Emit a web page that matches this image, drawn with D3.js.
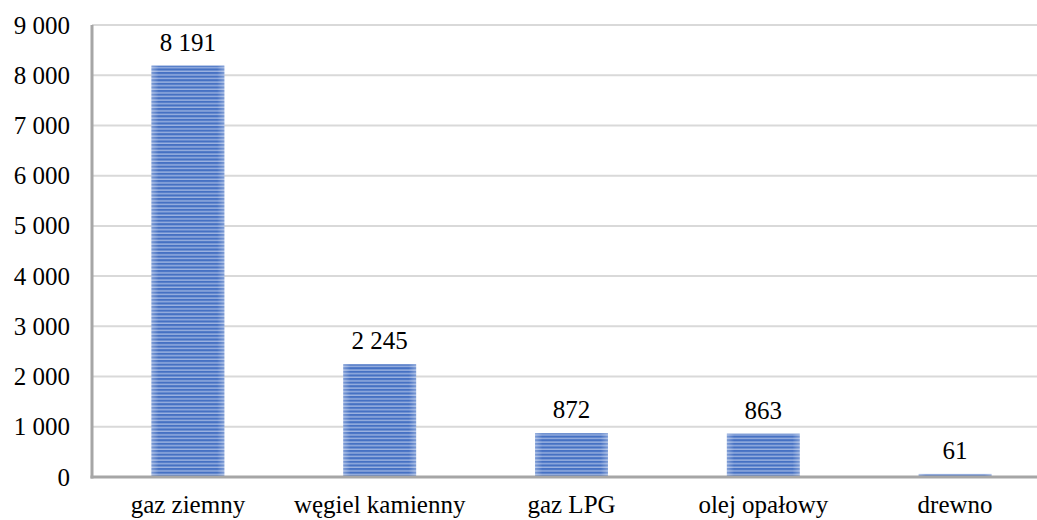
<!DOCTYPE html>
<html><head><meta charset="utf-8">
<script src="https://cdn.jsdelivr.net/npm/d3@7"></script>
<style>body{margin:0;background:#fff}svg{display:block}svg text{font-family:'Liberation Serif','Times New Roman',serif !important;}</style>
</head><body>
<script>
const categories = ["gaz ziemny", "węgiel kamienny", "gaz LPG", "olej opałowy", "drewno"];
const values = [8191, 2245, 872, 863, 61];
const yTicks = [0, 1000, 2000, 3000, 4000, 5000, 6000, 7000, 8000, 9000];

const W = 1037, H = 520;
const svg = d3.select("body").append("svg").attr("width", W).attr("height", H);
const loc = d3.formatLocale({decimal: ",", thousands: "\u00a0", grouping: [3], currency: ["", ""]});
const fmt = loc.format(",d");

const x = d3.scaleBand().domain(categories).range([92, 1051]).paddingInner(0.62).paddingOuter(0.31);
const y = d3.scaleLinear().domain([0, 9000]).range([477, 25]);

const defs = svg.append("defs");
const pat = defs.append("pattern").attr("id", "stripes").attr("patternUnits", "userSpaceOnUse")
  .attr("width", 8).attr("height", 3.6);
pat.append("rect").attr("width", 8).attr("height", 3.6).attr("fill", "#4671c3");
pat.append("rect").attr("y", 2.3).attr("width", 8).attr("height", 1.1).attr("fill", "#b4c6ea");
const grad = defs.append("linearGradient").attr("id", "edge").attr("x1", 0).attr("x2", 1).attr("y1", 0).attr("y2", 0);
grad.append("stop").attr("offset", 0).attr("stop-color", "#fff").attr("stop-opacity", 0.3);
grad.append("stop").attr("offset", 0.1).attr("stop-color", "#fff").attr("stop-opacity", 0);
grad.append("stop").attr("offset", 0.9).attr("stop-color", "#fff").attr("stop-opacity", 0);
grad.append("stop").attr("offset", 1).attr("stop-color", "#fff").attr("stop-opacity", 0.3);

// gridlines
svg.append("g").selectAll("line").data(yTicks.filter(d => d > 0)).join("line")
  .attr("x1", 92).attr("x2", W).attr("y1", d => y(d)).attr("y2", d => y(d))
  .attr("stroke", "#d9d9d9").attr("stroke-width", 2);

// y axis labels
const yAxis = d3.axisLeft(y).tickValues(yTicks).tickFormat(fmt).tickSize(0).tickPadding(22);
const gy = svg.append("g").attr("transform", "translate(92,0)").call(yAxis);
gy.select(".domain").remove();
gy.selectAll("text").style("font-size", "25px").attr("fill", "#000");

// bars
const bars = svg.append("g").selectAll("g").data(categories.map((c, i) => ({c, v: values[i]}))).join("g");
bars.append("rect").attr("x", d => x(d.c)).attr("width", x.bandwidth())
  .attr("y", d => y(d.v)).attr("height", d => y(0) - y(d.v)).attr("fill", "url(#stripes)");
bars.append("rect").attr("x", d => x(d.c)).attr("width", x.bandwidth())
  .attr("y", d => y(d.v)).attr("height", d => y(0) - y(d.v)).attr("fill", "url(#edge)");
bars.append("text").attr("x", d => x(d.c) + x.bandwidth() / 2).attr("y", d => y(d.v) - 15)
  .attr("text-anchor", "middle").style("font-size", "25px")
  .text(d => fmt(d.v));

// axes lines
svg.append("line").attr("x1", 92).attr("x2", 92).attr("y1", 25).attr("y2", 478.5)
  .attr("stroke", "#a6a6a6").attr("stroke-width", 3);
svg.append("line").attr("x1", 90.5).attr("x2", W).attr("y1", 477).attr("y2", 477)
  .attr("stroke", "#a6a6a6").attr("stroke-width", 3);

// x labels
const xAxis = d3.axisBottom(x).tickSize(0).tickPadding(0);
const gx = svg.append("g").attr("transform", "translate(0,477)").call(xAxis);
gx.select(".domain").remove();
gx.selectAll("text").attr("dy", null).attr("y", 36)
  .style("font-size", "25px").attr("fill", "#000");
</script>
</body></html>
